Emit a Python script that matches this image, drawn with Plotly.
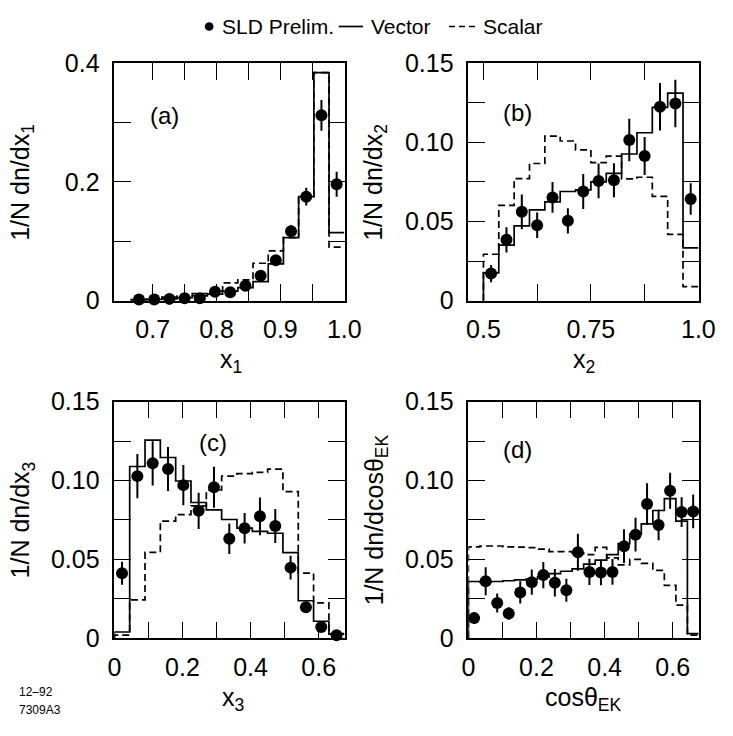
import numpy as np
import plotly.graph_objects as go

# ---------------- data ----------------
a_range = (2/3, 1.0)
a_data = [0.002, 0.002, 0.003, 0.004, 0.004, 0.015, 0.014, 0.025, 0.042, 0.068, 0.117, 0.175, 0.312, 0.196]
a_err = [0.002, 0.002, 0.002, 0.002, 0.002, 0.003, 0.003, 0.004, 0.005, 0.008, 0.010, 0.015, 0.026, 0.021]
a_vector = [0.001, 0.002, 0.003, 0.005, 0.008, 0.011, 0.016, 0.022, 0.032, 0.062, 0.106, 0.175, 0.384, 0.1145]
a_scalar = [0.002, 0.003, 0.006, 0.010, 0.012, 0.016, 0.030, 0.035, 0.063, 0.0837, 0.106, 0.175, 0.384, 0.090]

b_range = (0.5, 1.0)
b_data = [0.0171, 0.0384, 0.0561, 0.0476, 0.0652, 0.0504, 0.0689, 0.0756, 0.076, 0.1014, 0.0913, 0.1224, 0.1244, 0.0642]
b_err = [0.0054, 0.008, 0.011, 0.008, 0.0097, 0.008, 0.011, 0.011, 0.0107, 0.0134, 0.012, 0.015, 0.015, 0.010]
b_vector = [0.0175, 0.035, 0.0472, 0.0573, 0.0624, 0.0689, 0.0699, 0.075, 0.0804, 0.0926, 0.106, 0.122, 0.131, 0.0333]
b_scalar = [0.0293, 0.0602, 0.077, 0.0866, 0.1039, 0.1008, 0.0952, 0.0871, 0.0912, 0.0769, 0.0779, 0.0658, 0.0418, 0.0089]

c_range = (0.0, 0.675)
c_data = [0.0413, 0.1028, 0.1109, 0.1073, 0.0971, 0.0808, 0.0957, 0.0631, 0.0698, 0.0773, 0.0712, 0.0448, 0.0197, 0.0071, 0.002]
c_err = [0.0073, 0.014, 0.014, 0.014, 0.0127, 0.0115, 0.013, 0.0096, 0.0097, 0.0119, 0.0108, 0.0075, 0.003, 0.003, 0.002]
c_vector = [0.004, 0.1089, 0.1256, 0.1146, 0.0997, 0.0861, 0.0814, 0.0753, 0.0698, 0.0678, 0.0666, 0.0543, 0.0238, 0.0108, 0.0026]
c_scalar = [0.002, 0.0244, 0.0545, 0.0743, 0.0784, 0.0840, 0.094, 0.1028, 0.1044, 0.1052, 0.1073, 0.093, 0.0413, 0.0224, 0.003]

d_range = (0.0, 0.677)
d_data = [0.0128, 0.0362, 0.0224, 0.0157, 0.0291, 0.0356, 0.0401, 0.0352, 0.0305, 0.0545, 0.0421, 0.0417,
          0.0421, 0.0584, 0.0657, 0.0851, 0.0718, 0.0936, 0.080, 0.0804]
d_err = [0.0036, 0.0089, 0.006, 0.004, 0.007, 0.008, 0.0083, 0.0087, 0.0073, 0.0117, 0.0083, 0.0081,
         0.0081, 0.0107, 0.0107, 0.0132, 0.0097, 0.0114, 0.0094, 0.0107]
d_vector = [0.036, 0.0356, 0.036, 0.0365, 0.037, 0.0375, 0.039, 0.041, 0.0425, 0.044, 0.047, 0.0495,
            0.053, 0.060, 0.066, 0.0725, 0.081, 0.0886, 0.0743, 0.003]
d_scalar = [0.058, 0.0585, 0.0585, 0.058, 0.0578, 0.0575, 0.0565, 0.055, 0.055, 0.054, 0.053, 0.0576,
            0.051, 0.0465, 0.050, 0.0475, 0.043, 0.0336, 0.021, 0.002]

panel_labels = ["(a)", "(b)", "(c)", "(d)"]
x_titles = ["x<sub>1</sub>", "x<sub>2</sub>", "x<sub>3</sub>", "cosθ<sub>EK</sub>"]
y_titles = ["1/N dn/dx<sub>1</sub>", "1/N dn/dx<sub>2</sub>", "1/N dn/dx<sub>3</sub>", "1/N dn/dcosθ<sub>EK</sub>"]
legend_names = ["SLD Prelim.", "Vector", "Scalar"]

W, H = 733, 736
FONT = "Liberation Sans, Arial, Helvetica, sans-serif"

def px(x):
    return x / W

def py(y):
    return 1 - y / H

panels = [
    dict(rng=a_range, data=a_data, err=a_err, vec=a_vector, sca=a_scalar),
    dict(rng=b_range, data=b_data, err=b_err, vec=b_vector, sca=b_scalar),
    dict(rng=c_range, data=c_data, err=c_err, vec=c_vector, sca=c_scalar),
    dict(rng=d_range, data=d_data, err=d_err, vec=d_vector, sca=d_scalar),
]

DASH = "7px,4px"
fig = go.Figure()

for i, p in enumerate(panels):
    n = len(p["data"])
    edges = np.linspace(p["rng"][0], p["rng"][1], n + 1)
    centers = 0.5 * (edges[:-1] + edges[1:])
    xs = "x" if i == 0 else f"x{i+1}"
    ys = "y" if i == 0 else f"y{i+1}"
    sx = [edges[0]] + list(edges[:-1]) + [edges[-1]]
    for name, vals, dash in [(legend_names[1], p["vec"], "solid"), (legend_names[2], p["sca"], DASH)]:
        sy = [0] + list(vals) + [vals[-1]]
        fig.add_trace(go.Scatter(
            x=sx, y=sy, mode="lines", line=dict(shape="hv", color="black", width=1.7, dash=dash),
            name=name, showlegend=False, xaxis=xs, yaxis=ys, hoverinfo="skip"))
    fig.add_trace(go.Scatter(
        x=centers, y=p["data"], mode="markers", name=legend_names[0],
        marker=dict(color="black", size=12),
        error_y=dict(type="data", array=p["err"], visible=True, thickness=2, width=0, color="black"),
        showlegend=False, xaxis=xs, yaxis=ys, cliponaxis=False))

common = dict(showline=True, linecolor="black", linewidth=1.5, mirror="ticks", ticks="inside",
              ticklen=17, tickwidth=1.3, tickcolor="black", showgrid=False, zeroline=False,
              tickfont=dict(size=25, family=FONT, color="black"), tickmode="array")

xdom_l = [px(111), px(349)]
xdom_r = [px(477), px(715)]
ydom_t = [py(298), py(51)]
ydom_b = [py(649), py(403)]

def lab(vals, shown):
    return [shown.get(round(v, 4), "") for v in vals]

ax_a_x = [0.7, 0.75, 0.8, 0.85, 0.9, 0.95, 1.0]
ax_b_x = [0.5, 0.625, 0.75, 0.875, 1.0]
ax_cd_x = [0.0, 0.1, 0.2, 0.3, 0.4, 0.5, 0.6]
ax_a_y = [0.0, 0.1, 0.2, 0.3, 0.4]
ax_y15 = [0.0, 0.025, 0.05, 0.075, 0.1, 0.125, 0.15]
y15_labels = {0.0: "0", 0.05: "0.05", 0.1: "0.10", 0.15: "0.15"}
cd_labels = {0.0: "0", 0.2: "0.2", 0.4: "0.4", 0.6: "0.6"}

XS, YS = 6, 8
fig.update_layout(
    width=W, height=H, margin=dict(l=0, r=0, t=0, b=0),
    paper_bgcolor="white", plot_bgcolor="white",
    font=dict(family=FONT, color="black"), showlegend=False,
    xaxis=dict(common, domain=xdom_l, anchor="y", range=[0.64, 1.0005], tickvals=ax_a_x,
               ticktext=lab(ax_a_x, {0.7: "0.7", 0.8: "0.8", 0.9: "0.9", 1.0: "1.0"}), ticklabelstandoff=XS),
    yaxis=dict(common, domain=ydom_t, anchor="x", range=[0, 0.4], tickvals=ax_a_y,
               ticktext=lab(ax_a_y, {0.0: "0", 0.2: "0.2", 0.4: "0.4"}), ticklabelstandoff=YS),
    xaxis2=dict(common, domain=xdom_r, anchor="y2", range=[0.465, 1.0005], tickvals=ax_b_x,
                ticktext=lab(ax_b_x, {0.5: "0.5", 0.75: "0.75", 1.0: "1.0"}), ticklabelstandoff=XS),
    yaxis2=dict(common, domain=ydom_t, anchor="x2", range=[0, 0.15], tickvals=ax_y15,
                ticktext=lab(ax_y15, y15_labels), ticklabelstandoff=YS),
    xaxis3=dict(common, domain=xdom_l, anchor="y3", range=[0, 0.676], tickvals=ax_cd_x,
                ticktext=lab(ax_cd_x, cd_labels), ticklabelstandoff=XS),
    yaxis3=dict(common, domain=ydom_b, anchor="x3", range=[0, 0.15], tickvals=ax_y15,
                ticktext=lab(ax_y15, y15_labels), ticklabelstandoff=YS),
    xaxis4=dict(common, domain=xdom_r, anchor="y4", range=[0, 0.676], tickvals=ax_cd_x,
                ticktext=lab(ax_cd_x, cd_labels), ticklabelstandoff=XS),
    yaxis4=dict(common, domain=ydom_b, anchor="x4", range=[0, 0.15], tickvals=ax_y15,
                ticktext=lab(ax_y15, y15_labels), ticklabelstandoff=YS),
)

ann = []
for t, (x, y) in zip(panel_labels, [(163, 105), (528, 102), (213, 445), (528, 453)]):
    ann.append(dict(text=t, x=px(x), y=py(y), xref="paper", yref="paper", showarrow=False,
                    xanchor="center", yanchor="middle", font=dict(size=24, family=FONT)))
for t, (x, y) in zip(x_titles, [(232, 361), (597, 361), (234, 712), (596, 712)]):
    ann.append(dict(text=t, x=px(x), y=py(y), xref="paper", yref="paper", showarrow=False,
                    xanchor="center", yanchor="middle", font=dict(size=25, family=FONT)))
for t, (x, y) in zip(y_titles, [(16, 175), (381, 175), (16, 526), (381, 526)]):
    ann.append(dict(text=t, x=px(x), y=py(y), xref="paper", yref="paper", showarrow=False,
                    textangle=-90, xanchor="center", yanchor="middle", font=dict(size=25, family=FONT)))
ann.append(dict(text="12–92", x=px(10), y=py(705), xref="paper", yref="paper", showarrow=False,
                xanchor="left", yanchor="middle", font=dict(size=12, family=FONT)))
ann.append(dict(text="7309A3", x=px(10), y=py(724), xref="paper", yref="paper", showarrow=False,
                xanchor="left", yanchor="middle", font=dict(size=12, family=FONT)))

# legend row at the top (text + symbol samples)
LY = 13
for t, x in zip(legend_names, [220, 374, 490]):
    ann.append(dict(text=t, x=px(x), y=py(LY), xref="paper", yref="paper", showarrow=False,
                    xanchor="left", yanchor="middle", font=dict(size=21, family=FONT)))
fig.update_layout(annotations=ann)

fig.add_shape(type="circle", xref="paper", yref="paper", x0=px(204.5), x1=px(213.5),
              y0=py(LY + 4.5), y1=py(LY - 4.5), fillcolor="black", line=dict(color="black", width=0))
fig.add_shape(type="line", xref="paper", yref="paper", x0=px(343), x1=px(368), y0=py(LY), y1=py(LY),
              line=dict(color="black", width=1.7))
fig.add_shape(type="line", xref="paper", yref="paper", x0=px(457), x1=px(484), y0=py(LY), y1=py(LY),
              line=dict(color="black", width=1.3, dash="6px,4px"))

fig.write_html("out.html", config={"displayModeBar": False},
               post_script="document.body.style.margin='0';document.body.style.overflow='hidden';")
